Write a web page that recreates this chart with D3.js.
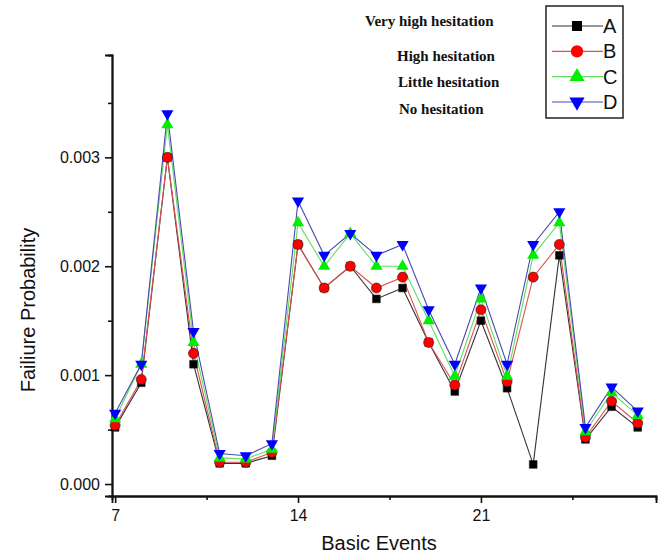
<html>
  <head>
    <script type="text/javascript" src="https://d3js.org/d3.v7.min.js"></script>
    <style>
      body { margin: 0; background: #fff; }
      text { font-family: Arial, "Liberation Sans", sans-serif; }
    </style>
  </head>
  <body>
    <script>
        // basic event numbers on the x axis
        var events = [7, 8, 9, 10, 11, 12, 13, 14, 15, 16, 17, 18, 19, 20, 21, 22, 23, 24, 25, 26, 27];

        // failure probability per hesitation level
        var seriesA = [0.00052, 0.00093, 0.0030, 0.0011, 0.00019, 0.00019, 0.00026, 0.0022, 0.0018, 0.0020, 0.0017,
                       0.0018, 0.0013, 0.00085, 0.0015, 0.00088, 0.00018, 0.0021, 0.00041, 0.00071, 0.00052];
        var seriesB = [0.00054, 0.00096, 0.0030, 0.0012, 0.00020, 0.00020, 0.00029, 0.0022, 0.0018, 0.0020, 0.0018,
                       0.0019, 0.0013, 0.00091, 0.0016, 0.00094, 0.0019, 0.0022, 0.00043, 0.00076, 0.00056];
        var seriesC = [0.00060, 0.0011, 0.0033, 0.0013, 0.00024, 0.00023, 0.00032, 0.0024, 0.0020, 0.0023, 0.0020,
                       0.0020, 0.0015, 0.00099, 0.0017, 0.00099, 0.0021, 0.0024, 0.00048, 0.00084, 0.00063];
        var seriesD = [0.00065, 0.0011, 0.0034, 0.0014, 0.00028, 0.00026, 0.00037, 0.0026, 0.0021, 0.0023, 0.0021,
                       0.0022, 0.0016, 0.0011, 0.0018, 0.0011, 0.0022, 0.0025, 0.00052, 0.00089, 0.00067];

        var seriesNames = ["A", "B", "C", "D"];
        var hesitation = ["Very high hesitation", "High hesitation", "Little hesitation", "No hesitation"];
        var xTicks = [7, 14, 21];
        var xMinor = [10.5, 17.5, 24.5];
        var yTicks = [0, 0.001, 0.002, 0.003];
        var yMinor = [0.0005, 0.0015, 0.0025, 0.0035];

        var width = 661, height = 556;

        var svg = d3.select("body").append("svg")
            .attr("width", width)
            .attr("height", height);

        var x = d3.scaleLinear().domain([6.88, 27.7]).range([112, 656]);
        var y = d3.scaleLinear().domain([-0.00011, 0.00394]).range([496, 55]);

        // axes
        var yAxis = svg.append("g").attr("transform", "translate(112,0)")
            .call(d3.axisLeft(y).tickValues(yTicks).tickSize(7).tickPadding(5).tickFormat(d3.format(".3f")));
        svg.append("g").attr("transform", "translate(112,0)")
            .call(d3.axisLeft(y).tickValues(yMinor).tickSize(4).tickFormat(""));

        var xAxis = svg.append("g").attr("transform", "translate(0,496)")
            .call(d3.axisBottom(x).tickValues(xTicks).tickSize(7).tickPadding(7).tickFormat(d3.format("d")));
        svg.append("g").attr("transform", "translate(0,496)")
            .call(d3.axisBottom(x).tickValues(xMinor).tickSize(4).tickFormat(""));

        svg.selectAll(".domain").attr("stroke", "#111").attr("stroke-width", 1.8);
        svg.selectAll(".tick line").attr("stroke", "#111").attr("stroke-width", 1.6);
        svg.selectAll(".tick text").attr("fill", "#111")
            .style("font-size", "16px");

        // axis titles
        svg.append("text")
            .attr("transform", "translate(35,310) rotate(-90)")
            .attr("text-anchor", "middle")
            .style("font-size", "20px")
            .attr("fill", "#111")
            .text("Failiure Probability");

        svg.append("text")
            .attr("x", 379).attr("y", 550)
            .attr("text-anchor", "middle")
            .style("font-size", "20px")
            .attr("fill", "#111")
            .text("Basic Events");

        // series
        var colors = ["#000000", "#ff0000", "#00ee00", "#0000ff"];
        var lineColors = ["#333333", "#e05050", "#60e060", "#4a4ab0"];
        var shapes = [d3.symbolSquare, d3.symbolCircle, d3.symbolTriangle, d3.symbolTriangle];
        var sizes = [60, 80, 64, 64];
        var rot = [0, 0, 0, 180];
        var data = [seriesA, seriesB, seriesC, seriesD];

        var line = d3.line()
            .x(function(d, i) { return x(events[i]); })
            .y(function(d) { return y(d); });

        data.forEach(function(s, k) {
            svg.append("path")
                .datum(s)
                .attr("fill", "none")
                .attr("stroke", lineColors[k])
                .attr("stroke-width", 1.1)
                .attr("d", line);
        });

        data.forEach(function(s, k) {
            svg.append("g").selectAll("path")
                .data(s)
                .enter().append("path")
                .attr("transform", function(d, i) {
                    return "translate(" + x(events[i]) + "," + y(d) + ") rotate(" + rot[k] + ")";
                })
                .attr("d", d3.symbol().type(shapes[k]).size(sizes[k]))
                .attr("fill", colors[k])
                .attr("stroke", k < 2 ? "#222" : "none")
                .attr("stroke-width", 0.6);
        });

        // hesitation notes
        var noteX = [365, 397, 398, 399];
        var noteY = [26, 61, 87, 114];
        svg.append("g").selectAll("text")
            .data(hesitation)
            .enter().append("text")
            .attr("x", function(d, i) { return noteX[i]; })
            .attr("y", function(d, i) { return noteY[i]; })
            .style("font-family", "'Liberation Serif', 'Times New Roman', serif")
            .style("font-weight", "bold")
            .style("font-size", "15px")
            .attr("fill", "#111")
            .text(function(d) { return d; });

        // legend
        var legend = svg.append("g");
        legend.append("rect")
            .attr("x", 546).attr("y", 6)
            .attr("width", 77).attr("height", 112)
            .attr("fill", "none")
            .attr("stroke", "#222")
            .attr("stroke-width", 1.5);

        var legendY = d3.scalePoint().domain(seriesNames).range([26, 102]);
        var legendSizes = [100, 120, 100, 100];

        seriesNames.forEach(function(n, k) {
            var ly = legendY(n);
            legend.append("line")
                .attr("x1", 552).attr("x2", 603)
                .attr("y1", ly).attr("y2", ly)
                .attr("stroke", lineColors[k])
                .attr("stroke-width", 1.1);
            legend.append("path")
                .attr("transform", "translate(577," + ly + ") rotate(" + rot[k] + ")")
                .attr("d", d3.symbol().type(shapes[k]).size(legendSizes[k]))
                .attr("fill", colors[k]);
            legend.append("text")
                .attr("x", 603).attr("y", ly + 7)
                .style("font-size", "20px")
                .attr("fill", "#111")
                .text(n);
        });
    </script>
  </body>
</html>
